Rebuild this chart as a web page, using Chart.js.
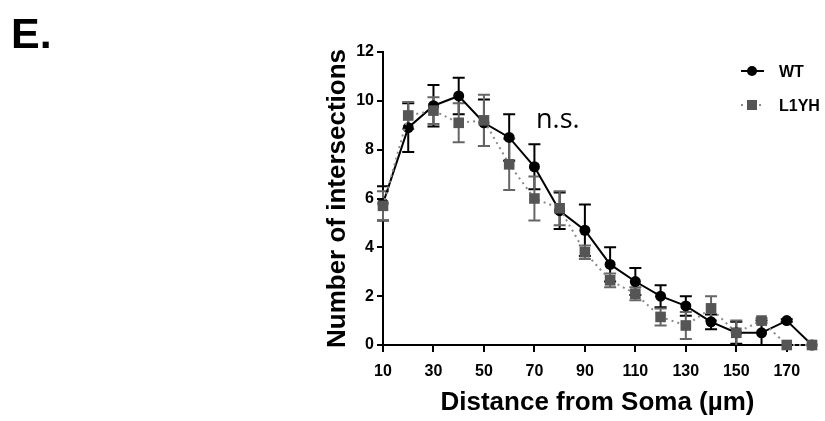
<!DOCTYPE html>
<html>
<head>
<meta charset="utf-8">
<script src="https://cdn.jsdelivr.net/npm/chart.js@4.4.1/dist/chart.umd.min.js"></script>
<style>
  html, body { margin: 0; padding: 0; background: #fff; }
  #wrap { position: relative; width: 825px; height: 421px; }
  canvas { position: absolute; left: 0; top: 0; }
  .lbl { position: absolute; white-space: nowrap; line-height: 1; color: #000; }
  #panel { left: 11px; top: 9px; font: bold 43px "Liberation Sans", Arial, sans-serif; }
  #ns { left: 536px; top: 99px; font: 27px "Open Sans", sans-serif; }
</style>
</head>
<body>
<div id="wrap">
  <canvas id="c" width="825" height="421"></canvas>
  <div class="lbl" id="panel">E.</div>
  <div class="lbl" id="ns">n.s.</div>
</div>
<script>
// distance from soma (µm)
const distances = [10, 20, 30, 40, 50, 60, 70, 80, 90, 100, 110, 120, 130, 140, 150, 160, 170, 180];
const wtMean = [5.8, 8.9, 9.8, 10.2, 9.1, 8.5, 7.3, 5.5, 4.7, 3.3, 2.6, 2.0, 1.6, 0.95, 0.5, 0.5, 1.0, 0];
const wtErr  = [0.7, 1.0, 0.85, 0.75, 0.95, 0.95, 0.92, 0.75, 1.05, 0.7, 0.55, 0.45, 0.4, 0.3, 0.45, 0.5, 0.05, 0];
const l1Mean = [5.7, 9.4, 9.6, 9.1, 9.2, 7.4, 6.0, 5.6, 3.8, 2.65, 2.1, 1.15, 0.8, 1.5, 0.5, 1.0, 0, 0];
const l1Err  = [0.6, 0.55, 0.55, 0.8, 1.05, 1.05, 0.9, 0.7, 0.28, 0.28, 0.27, 0.35, 0.55, 0.5, 0.5, 0.1, 0, 0];
const xTicks = [10, 30, 50, 70, 90, 110, 130, 150, 170];
const yTicks = [0, 2, 4, 6, 8, 10, 12];

const FONT = '"Liberation Sans", Arial, sans-serif';
const WT_COLOR = '#000000';
const L1_COLOR = '#555555';
const L1_BAR = '#666666';
const L1_LINE = '#8a8a8a';

const points = (ys) => distances.map((x, i) => ({x, y: ys[i]}));

// error bars, drawn under the markers
const errorBars = {
    id: 'errorBars',
    beforeDatasetsDraw(chart) {
        const {ctx, scales: {x, y}} = chart;
        chart.data.datasets.forEach((ds) => {
            const errs = ds.errors;
            ctx.save();
            ctx.strokeStyle = ds.barColor;
            ctx.lineWidth = 2;
            ds.data.forEach((p, i) => {
                const e = errs[i];
                if (!e) return;
                const px = x.getPixelForValue(p.x);
                const top = y.getPixelForValue(p.y + e);
                const bot = y.getPixelForValue(Math.max(p.y - e, 0));
                ctx.beginPath();
                ctx.moveTo(px, top); ctx.lineTo(px, bot);
                ctx.moveTo(px - 6, top); ctx.lineTo(px + 6, top);
                if (p.y - e > 0) { ctx.moveTo(px - 6, bot); ctx.lineTo(px + 6, bot); }
                ctx.stroke();
            });
            ctx.restore();
        });
    }
};

// legend in the top right corner
const cornerLegend = {
    id: 'cornerLegend',
    afterDraw(chart) {
        const {ctx} = chart;
        const rows = [
            {ds: chart.data.datasets[0], y: 71},
            {ds: chart.data.datasets[1], y: 105}
        ];
        ctx.save();
        rows.forEach(({ds, y}) => {
            ctx.strokeStyle = ds.borderColor;
            ctx.lineWidth = 2;
            ctx.setLineDash(ds.borderDash || []);
            ctx.beginPath();
            ctx.moveTo(741, y); ctx.lineTo(764, y);
            ctx.stroke();
            ctx.setLineDash([]);
            ctx.fillStyle = ds.pointBackgroundColor;
            if (ds.pointStyle === 'rect') {
                ctx.fillRect(747, y - 5, 10, 10);
            } else {
                ctx.beginPath(); ctx.arc(752, y, 5, 0, Math.PI * 2); ctx.fill();
            }
            ctx.fillStyle = '#000';
            ctx.font = 'bold 16px ' + FONT;
            ctx.textBaseline = 'middle';
            ctx.fillText(ds.label, 779, y + 2);
        });
        ctx.restore();
    }
};

new Chart(document.getElementById('c'), {
    type: 'line',
    data: {
        datasets: [
            {
                label: 'WT',
                data: points(wtMean),
                errors: wtErr,
                barColor: WT_COLOR,
                borderColor: WT_COLOR,
                borderWidth: 2,
                pointStyle: 'circle',
                pointRadius: 5.5,
                pointBackgroundColor: WT_COLOR,
                pointBorderWidth: 0,
                tension: 0,
                clip: false,
                order: 2
            },
            {
                label: 'L1YH',
                data: points(l1Mean),
                errors: l1Err,
                barColor: L1_BAR,
                borderColor: L1_LINE,
                borderWidth: 2,
                borderDash: [2, 4],
                pointStyle: 'rect',
                pointRadius: 7.5,
                pointBackgroundColor: L1_COLOR,
                pointBorderWidth: 0,
                tension: 0,
                clip: false,
                order: 1
            }
        ]
    },
    options: {
        responsive: false,
        animation: false,
        layout: { padding: { left: 322, top: 52, right: 13, bottom: 0 } },
        plugins: { legend: { display: false }, tooltip: { enabled: false } },
        scales: {
            x: {
                type: 'linear',
                min: 10, max: 180,
                afterBuildTicks: (s) => { s.ticks = xTicks.map(v => ({value: v})); },
                afterFit: (s) => { s.height = 76; },
                grid: { drawOnChartArea: false, color: '#000', lineWidth: 2, tickLength: 7 },
                border: { color: '#000', width: 2 },
                ticks: { color: '#000', font: { family: FONT, size: 16, weight: 'bold' }, padding: 10, maxRotation: 0 },
                title: {
                    display: true, text: 'Distance from Soma (µm)', color: '#000',
                    font: { family: FONT, size: 26, weight: 'bold' }, padding: { top: 0, bottom: 3 }
                }
            },
            y: {
                min: 0, max: 12,
                afterBuildTicks: (s) => { s.ticks = yTicks.map(v => ({value: v})); },
                afterFit: (s) => { s.width = 61; },
                grid: { drawOnChartArea: false, color: '#000', lineWidth: 2, tickLength: 6 },
                border: { color: '#000', width: 2 },
                ticks: { color: '#000', font: { family: FONT, size: 16, weight: 'bold' }, padding: 3 },
                title: {
                    display: true, text: 'Number of intersections', color: '#000',
                    font: { family: FONT, size: 26, weight: 'bold' }, padding: { top: 0, bottom: 0 }
                }
            }
        }
    },
    plugins: [errorBars, cornerLegend]
});
</script>
</body>
</html>
